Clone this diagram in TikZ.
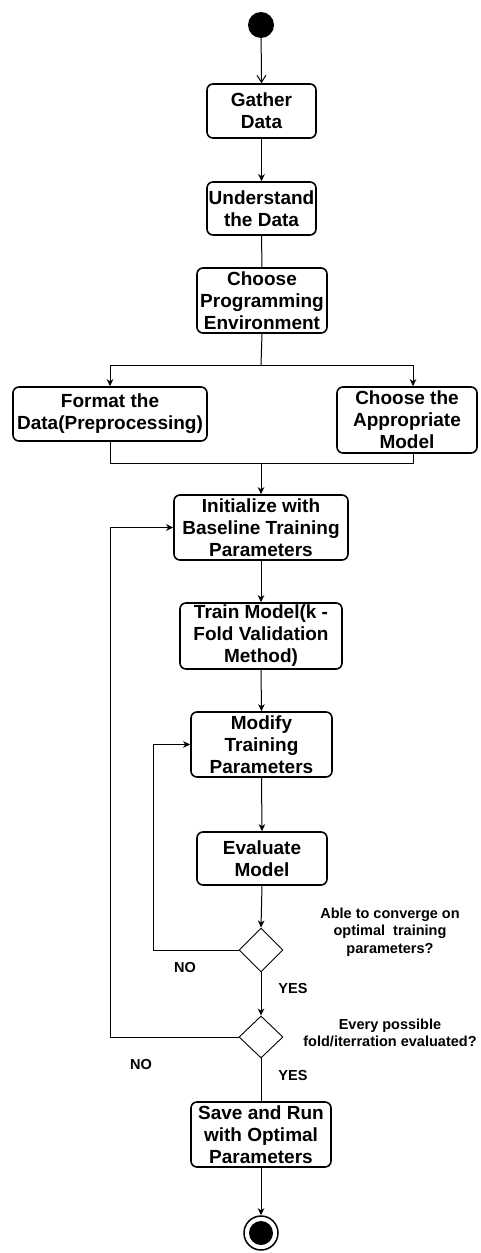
\documentclass[tikz,border=0pt]{standalone}
\usepackage{fontspec}
\setmainfont{Liberation Sans}
\usetikzlibrary{arrows.meta,shapes.geometric}

\tikzset{
  box/.style={draw, line width=1.6pt, rounded corners=6pt, inner sep=0pt,
    align=center, font=\fontsize{19}{22}\selectfont\bfseries},
  decision/.style={draw, diamond, line width=0.9pt, inner sep=0pt,
    minimum width=44pt, minimum height=44pt},
  note/.style={align=center, inner sep=0pt, font=\fontsize{14.5}{17.5}\selectfont\bfseries},
  flow/.style={line width=1pt},
  arr/.style={flow, -{Stealth[length=7pt,width=6.5pt,inset=2pt]}},
  openarr/.style={flow, -{Straight Barb[length=7pt,width=9pt]}},
}

\begin{document}
\begin{tikzpicture}[x=1pt,y=-1pt]
  \useasboundingbox (0,0) rectangle (480,1253);

  % start and end states
  \node (start) [circle, fill=black, minimum size=26pt, inner sep=0pt] at (261,25) {};
  \node (stop) [circle, draw, line width=1.5pt, minimum size=34pt, inner sep=0pt] at (261,1233) {};
  \node (stopdot) [circle, fill=black, minimum size=24pt, inner sep=0pt] at (stop) {};

  % activities
  \node (gather) [box, minimum width=109pt, minimum height=54pt] at (261.5,111) {Gather\\Data};
  \node (understand) [box, minimum width=109pt, minimum height=53pt] at (261.5,208.5) {Understand\\the Data};
  \node (env) [box, minimum width=130pt, minimum height=65pt] at (262,300.5) {Choose\\Programming\\Environment};
  \node (format) [box, minimum width=194pt, minimum height=54pt] at (110,414) {Format the\\Data(Preprocessing)};
  \node (model) [box, minimum width=140pt, minimum height=66pt] at (407,420) {Choose the\\Appropriate\\Model};
  \node (init) [box, minimum width=174pt, minimum height=65pt] at (261,527.5) {Initialize with\\Baseline Training\\Parameters};
  \node (train) [box, minimum width=162pt, minimum height=66pt] at (261,636) {Train Model(k -\\Fold Validation\\Method)};
  \node (modify) [box, minimum width=141pt, minimum height=65pt] at (261.5,744.5) {Modify\\Training\\Parameters};
  \node (evaluate) [box, minimum width=130pt, minimum height=53pt] at (262,858.5) {Evaluate\\Model};
  \node (save) [box, minimum width=140pt, minimum height=65pt] at (261,1134.5) {Save and Run\\with Optimal\\Parameters};

  % decisions
  \node (conv) [decision] at (261,950) {};
  \node (folds) [decision, minimum height=42pt] at (261,1037) {};

  % labels
  \node (convq) [note] at (390,932) {Able to converge on\\optimal\ \ training\\parameters?};
  \node (foldsq) [note] at (390,1033) {Every possible\\fold/iterration evaluated?};
  \node (convno) [note] at (185,967) {NO};
  \node (convyes) [note] at (293,988) {YES};
  \node (foldsno) [note] at (141,1064) {NO};
  \node (foldsyes) [note] at (293,1075) {YES};

  % routing points
  \coordinate (split) at (261,365);
  \coordinate (join) at (261,463);
  \coordinate (loopA) at (153,950);
  \coordinate (loopB) at (110,1037);

  % connectors
  \draw[openarr] (start) -- (gather.north);
  \draw[arr] (gather.south) -- (understand.north);
  \draw[flow] (understand.south) -- (env.north);
  \draw[flow] (env.south) -- (split);
  \draw[arr] (split) -| (format.north);
  \draw[arr] (split) -| ([xshift=6pt]model.north);
  \draw[flow] (format.south) |- (join);
  \draw[flow] ([xshift=6pt]model.south) |- (join);
  \draw[arr] (join) -- (init.north);
  \draw[arr] (init.south) -- (train.north);
  \draw[arr] (train.south) -- (modify.north);
  \draw[arr] (modify.south) -- (evaluate.north);
  \draw[arr] (evaluate.south) -- (conv.north);
  \draw[arr] (conv.west) -- (loopA) |- (modify.west);
  \draw[arr] (conv.south) -- (folds.north);
  \draw[arr] (folds.west) -- (loopB) |- (init.west);
  \draw[flow] (folds.south) -- (save.north);
  \draw[arr] (save.south) -- (stop.north);
\end{tikzpicture}
\end{document}
